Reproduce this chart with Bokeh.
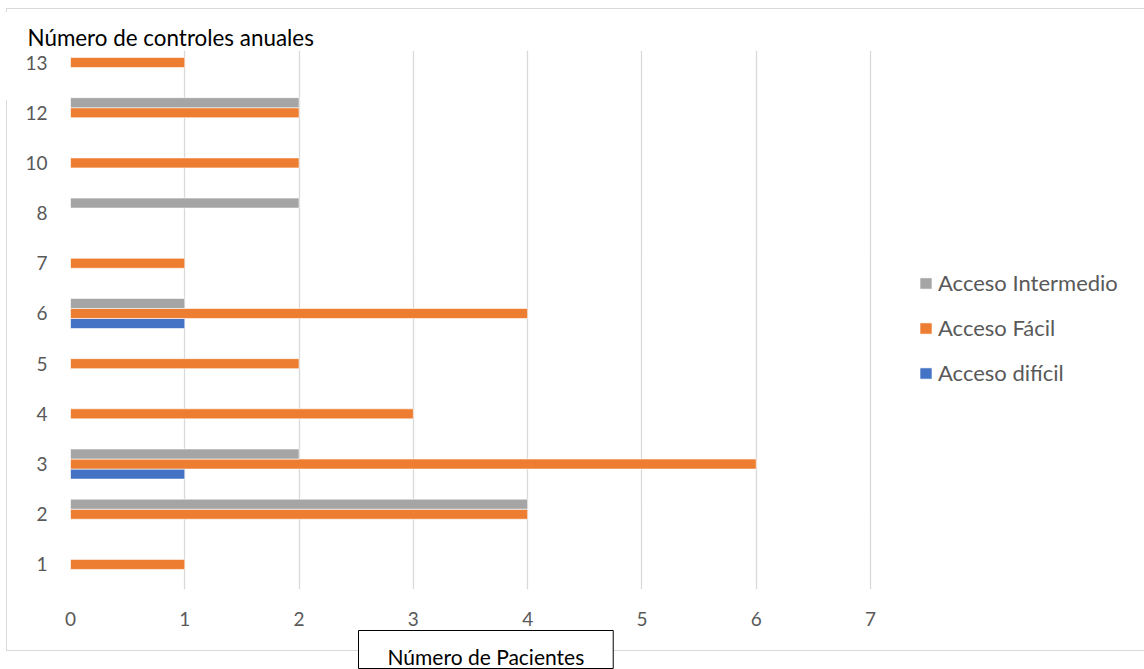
from bokeh.plotting import figure
from bokeh.models import (ColumnDataSource, Range1d, FixedTicker, Legend, LegendItem, Title)
from bokeh.transform import dodge
from bokeh.embed import file_html
from bokeh.resources import INLINE

categories = ["1", "2", "3", "4", "5", "6", "7", "8", "10", "12", "13"]
acceso_dificil = [0, 0, 1, 0, 0, 1, 0, 0, 0, 0, 0]
acceso_facil = [1, 4, 6, 3, 2, 4, 1, 0, 2, 2, 1]
acceso_intermedio = [0, 4, 2, 0, 0, 1, 0, 2, 0, 2, 0]
x_ticks = [0, 1, 2, 3, 4, 5, 6, 7]

FONT = "Lato"
GRID = "#D9D9D9"
TXT = "#595959"

positions = list(range(len(categories)))

line = "linear-gradient(#D9D9D9,#D9D9D9)"
bg = ", ".join([
    f"{line} 6px 8px / 1px 4px no-repeat",
    f"{line} 6px 100px / 1px 551px no-repeat",
    f"{line} 6px 8px / 1138px 1px no-repeat",
    f"{line} 6px 650px / 1138px 1px no-repeat",
    "white",
])

# plot area: x 0..7 spans 800 px (70..870); frame continues to the right edge for the legend
px_per_unit = 800 / 7
x_end = 7 + 274 / px_per_unit

p = figure(width=1144, height=669, y_range=Range1d(-0.5, 10.24), x_range=Range1d(0, x_end),
           output_backend="svg", toolbar_location=None,
           min_border_left=70, min_border_right=0, min_border_top=50, min_border_bottom=80,
           styles={"background": bg})
p.outline_line_color = None
p.background_fill_color = "white"
p.border_fill_color = None


def src(vals):
    c = [k for k, v in zip(positions, vals) if v > 0]
    v = [v for v in vals if v > 0]
    return ColumnDataSource(dict(pos=c, val=v))


r_dif = p.hbar(y=dodge("pos", -0.2), right="val", left=0, height=0.2,
               source=src(acceso_dificil), fill_color="#4472C4", line_color="white", line_width=0.6)
r_fac = p.hbar(y=dodge("pos", 0.0), right="val", left=0, height=0.2,
               source=src(acceso_facil), fill_color="#ED7D31", line_color="white", line_width=0.6)
r_int = p.hbar(y=dodge("pos", 0.2), right="val", left=0, height=0.2,
               source=src(acceso_intermedio), fill_color="#A5A5A5", line_color="white", line_width=0.6)

# axes
p.xaxis.ticker = FixedTicker(ticks=x_ticks)
p.xgrid.ticker = FixedTicker(ticks=x_ticks)
p.xgrid.grid_line_color = GRID
p.xgrid.grid_line_width = 1.3
p.xgrid.level = "underlay"
p.ygrid.grid_line_color = None
p.yaxis.ticker = FixedTicker(ticks=positions)
p.yaxis.major_label_overrides = {i: c for i, c in zip(positions, categories)}
for ax in (p.xaxis[0], p.yaxis[0]):
    ax.axis_line_color = None
    ax.major_tick_line_color = None
    ax.minor_tick_line_color = None
    ax.major_tick_out = 0
    ax.major_tick_in = 0
    ax.minor_tick_out = 0
    ax.minor_tick_in = 0
    ax.major_label_text_font = FONT
    ax.major_label_text_font_size = "19px"
    ax.major_label_text_color = TXT
p.xaxis.major_label_standoff = 22
p.yaxis.major_label_standoff = 23

# y-axis title (top-left)
ytitle = Title(text="Número de controles anuales", align="left", offset=-43, standoff=0,
               text_font=FONT, text_font_size="22.4px", text_color="black", text_font_style="normal")
p.add_layout(ytitle, "above")

# x-axis title in a box
xtitle = Title(text="Número de Pacientes", align="left", offset=288, standoff=0,
               text_font=FONT, text_font_size="21px", text_color="black", text_font_style="normal",
               background_fill_color="white", border_line_color="black", border_line_width=1,
               padding=dict(left=29, right=29, top=13, bottom=0))
p.add_layout(xtitle, "below")

legend = Legend(items=[LegendItem(label="Acceso Intermedio", renderers=[r_int]),
                       LegendItem(label="Acceso Fácil", renderers=[r_fac]),
                       LegendItem(label="Acceso difícil", renderers=[r_dif])],
                location=(848, 203), orientation="vertical")
legend.padding = 0
legend.margin = 0
legend.border_line_color = None
legend.background_fill_alpha = 0
legend.glyph_width = 15
legend.glyph_height = 14
legend.label_standoff = 5
legend.label_height = 24
legend.spacing = 18
legend.label_text_font = FONT
legend.label_text_font_size = "22px"
legend.label_text_color = TXT
p.add_layout(legend)

open("out.html", "w").write(file_html(p, INLINE))
